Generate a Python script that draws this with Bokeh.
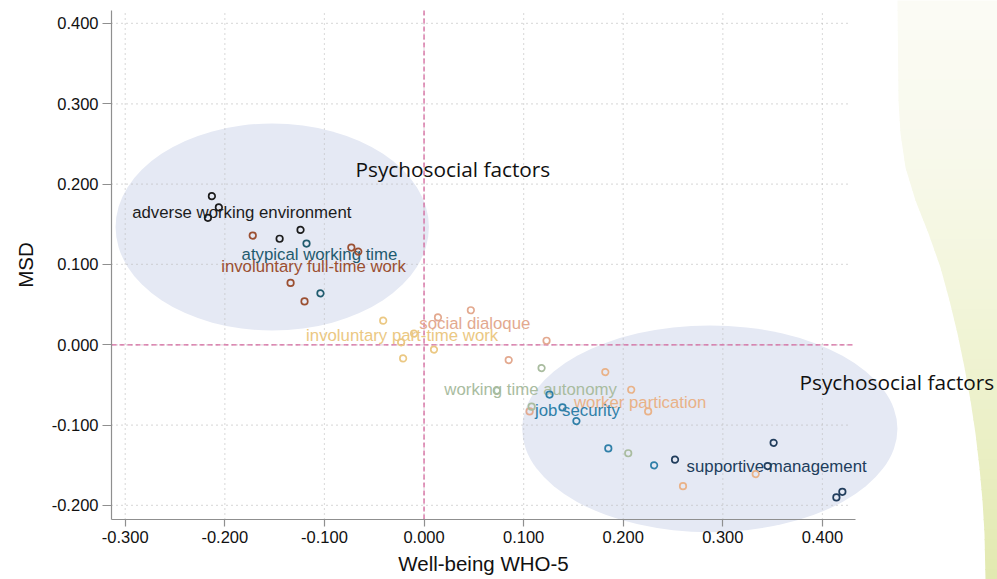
import numpy as np
from bokeh.plotting import figure
from bokeh.models import (ColumnDataSource, FixedTicker, NumeralTickFormatter, Label)
from bokeh.core.properties import value
from bokeh.embed import file_html
from bokeh.resources import INLINE

# ---------------------------------------------------------------- data
groups = ["adverse working environment", "atypical working time",
          "involuntary full-time work", "social dialoque",
          "involuntary part-time work", "working time autonomy",
          "worker partication", "job security", "supportive management"]

group_colors = ["#1c1c1c", "#1f5b6e", "#9b4f31", "#e3a98f", "#ebc883",
                "#a9bc9f", "#e9b288", "#2f7fa8", "#213d5c"]

# Well-being WHO-5 (x) and MSD (y) per factor
wb_adverse = [-0.213, -0.206, -0.217, -0.145, -0.124]
msd_adverse = [0.185, 0.171, 0.158, 0.132, 0.143]

wb_atypical = [-0.118, -0.104]
msd_atypical = [0.126, 0.064]

wb_fulltime = [-0.172, -0.073, -0.066, -0.134, -0.120]
msd_fulltime = [0.136, 0.121, 0.116, 0.077, 0.054]

wb_dialogue = [0.014, 0.047, 0.123, 0.085, 0.106]
msd_dialogue = [0.034, 0.043, 0.005, -0.019, -0.083]

wb_parttime = [-0.041, -0.010, -0.023, 0.010, -0.021]
msd_parttime = [0.030, 0.014, 0.003, -0.006, -0.017]

wb_autonomy = [0.118, 0.073, 0.108, 0.205]
msd_autonomy = [-0.029, -0.057, -0.077, -0.135]

wb_participation = [0.182, 0.208, 0.225, 0.260, 0.333]
msd_participation = [-0.034, -0.056, -0.083, -0.176, -0.161]

wb_security = [0.126, 0.139, 0.153, 0.185, 0.231]
msd_security = [-0.062, -0.078, -0.095, -0.129, -0.150]

wb_support = [0.252, 0.351, 0.345, 0.414, 0.420]
msd_support = [-0.143, -0.122, -0.151, -0.190, -0.183]

series_x = [wb_adverse, wb_atypical, wb_fulltime, wb_dialogue, wb_parttime,
            wb_autonomy, wb_participation, wb_security, wb_support]
series_y = [msd_adverse, msd_atypical, msd_fulltime, msd_dialogue, msd_parttime,
            msd_autonomy, msd_participation, msd_security, msd_support]

# anchor of each factor's name
label_x = [-0.183, -0.105, -0.111, 0.051, -0.022, 0.107, 0.217, 0.154, 0.354]
label_y = [0.165, 0.113, 0.097, 0.027, 0.011, -0.056, -0.072, -0.082, -0.151]

x_ticks = [-0.3, -0.2, -0.1, 0.0, 0.1, 0.2, 0.3, 0.4]
y_ticks = [-0.2, -0.1, 0.0, 0.1, 0.2, 0.3, 0.4]

# ---------------------------------------------------------------- geometry
# The frame fills the whole canvas; both axes are pinned to data locations so
# the slide backdrop and the cluster shapes can run past the plotting area.
W, H = 997, 579
AXIS_PX, AXIS_PY = 111, 519          # canvas column / row of the two axis lines
PX_PER_X, PX_PER_Y = 996.0, 803.3
X_AXIS = -0.3138                     # data value where the y axis sits
Y_AXIS = -0.2175                     # data value where the x axis sits
X_START = X_AXIS - AXIS_PX / PX_PER_X
X_END = X_START + W / PX_PER_X
Y_START = Y_AXIS - (H - AXIS_PY) / PX_PER_Y
Y_END = Y_AXIS + AXIS_PY / PX_PER_Y

PLOT_RIGHT = 0.4332     # end of the x axis line and of the zero line
AXIS_TOP = 0.4162       # top of the y axis line
GRID_RIGHT = 0.428
GRID_TOP = 0.415


def px_to_x(px):
    return X_START + np.asarray(px, float) / PX_PER_X


def py_to_y(py):
    return Y_START + (H - np.asarray(py, float)) / PX_PER_Y


p = figure(width=W, height=H, x_range=(X_START, X_END), y_range=(Y_START, Y_END),
           output_backend="svg", toolbar_location=None,
           min_border_left=0, min_border_right=0,
           min_border_top=0, min_border_bottom=0)
p.outline_line_color = None
p.background_fill_color = "white"
p.border_fill_color = "white"
p.xgrid.visible = False
p.ygrid.visible = False

# ---------------------------------------------------------------- slide backdrop on the right
edge_py = [0, 100, 133, 167, 200, 233, 267, 300, 333, 367, 400, 433, 467, 500, 533, 579]
edge_px = [897, 898, 900, 905, 915, 928, 940, 949, 957, 964, 970, 975, 979, 982, 984, 985]
stop_py = [0, 150, 300, 450, 579]
stop_rgb = np.array([[251, 251, 245], [248, 249, 236], [242, 245, 218],
                     [234, 239, 196], [226, 233, 176]], float)
n_bands = 58
edges = np.linspace(0, H, n_bands + 1)
band_xs, band_ys, band_cols = [], [], []
for y0, y1 in zip(edges[:-1], edges[1:]):
    ys = np.linspace(y0 - 0.6, y1 + 0.6, 5)
    xs = np.interp(ys, edge_py, edge_px)
    poly_px = list(xs) + [W + 5, W + 5]
    poly_py = list(ys) + [ys[-1], ys[0]]
    mid = 0.5 * (y0 + y1)
    rgb = [int(round(np.interp(mid, stop_py, stop_rgb[:, k]))) for k in range(3)]
    band_xs.append(list(px_to_x(poly_px)))
    band_ys.append(list(py_to_y(poly_py)))
    band_cols.append("#%02x%02x%02x" % tuple(rgb))
p.patches(band_xs, band_ys, fill_color=band_cols, line_color=None, level="image")

# ---------------------------------------------------------------- cluster ellipses
ell_x = [-0.1524, 0.2869]
ell_y = [0.1466, -0.1046]
ell_w = [0.3146, 0.3768]
ell_h = [0.2577, 0.2573]
p.ellipse(ell_x, ell_y, width=ell_w, height=ell_h, fill_color="#e5e9f4",
          line_color=None, level="image")

# ---------------------------------------------------------------- dotted grid, bounded like the axes
p.segment(x0=x_ticks, x1=x_ticks, y0=[Y_AXIS] * len(x_ticks), y1=[GRID_TOP] * len(x_ticks),
          line_color="#bdbdbd", line_dash="1 4", line_width=1.2, level="underlay")
p.segment(x0=[X_AXIS] * len(y_ticks), x1=[GRID_RIGHT] * len(y_ticks), y0=y_ticks, y1=y_ticks,
          line_color="#bdbdbd", line_dash="1 4", line_width=1.2, level="underlay")

# zero reference lines
p.segment(x0=[0.0, X_AXIS], x1=[0.0, PLOT_RIGHT], y0=[Y_AXIS, 0.0], y1=[AXIS_TOP, 0.0],
          line_color="#d4679d", line_dash="5 3", line_width=1.3, level="underlay")

# ---------------------------------------------------------------- axes
for ax, ticks in [(p.xaxis, x_ticks), (p.yaxis, y_ticks)]:
    ax.ticker = FixedTicker(ticks=ticks)
    ax.formatter = NumeralTickFormatter(format="0.000")
    ax.axis_line_color = "#8f8f8f"
    ax.axis_line_width = 1.2
    ax.major_tick_line_color = "#8f8f8f"
    ax.major_tick_line_width = 1.2
    ax.major_tick_in = 0
    ax.minor_tick_line_color = None
    ax.major_label_text_font = "Liberation Sans"
    ax.major_label_text_font_size = "16.5px"
    ax.major_label_text_color = "#111111"
    ax.axis_label_text_font = "Liberation Sans"
    ax.axis_label_text_font_size = "20.5px"
    ax.axis_label_text_font_style = "normal"
    ax.axis_label_text_color = "#111111"

p.xaxis.axis_label = "Well-being WHO-5"
p.yaxis.axis_label = "MSD"
p.xaxis.fixed_location = Y_AXIS
p.yaxis.fixed_location = X_AXIS
p.xaxis.bounds = (X_AXIS, PLOT_RIGHT)
p.yaxis.bounds = (Y_AXIS, AXIS_TOP)
p.xaxis.major_tick_out = 7
p.yaxis.major_tick_out = 9
p.xaxis.major_label_standoff = 4
p.yaxis.major_label_standoff = 4
p.xaxis.axis_label_standoff = 6
p.yaxis.axis_label_standoff = 12

# ---------------------------------------------------------------- factor names and markers
p.text(x="x", y="y", text="name", text_color="color",
       source=ColumnDataSource(dict(x=label_x, y=label_y, name=groups, color=group_colors)),
       text_font=value("Liberation Sans"), text_font_size="16.8px",
       text_align="center", text_baseline="middle")

for xs, ys, col in zip(series_x, series_y, group_colors):
    p.scatter(xs, ys, marker="circle", size=6.5, fill_alpha=0,
              line_color=col, line_width=1.7)

# ---------------------------------------------------------------- cluster captions
for lx, ly in [(355, 168.3), (799, 381.7)]:
    p.add_layout(Label(x=float(px_to_x(lx)), y=float(py_to_y(ly)),
                       text="Psychosocial factors", text_font="Open Sans",
                       text_font_size="20.8px", text_color="#111111",
                       text_align="left", text_baseline="alphabetic"))

open("out.html", "w").write(file_html(p, INLINE))
